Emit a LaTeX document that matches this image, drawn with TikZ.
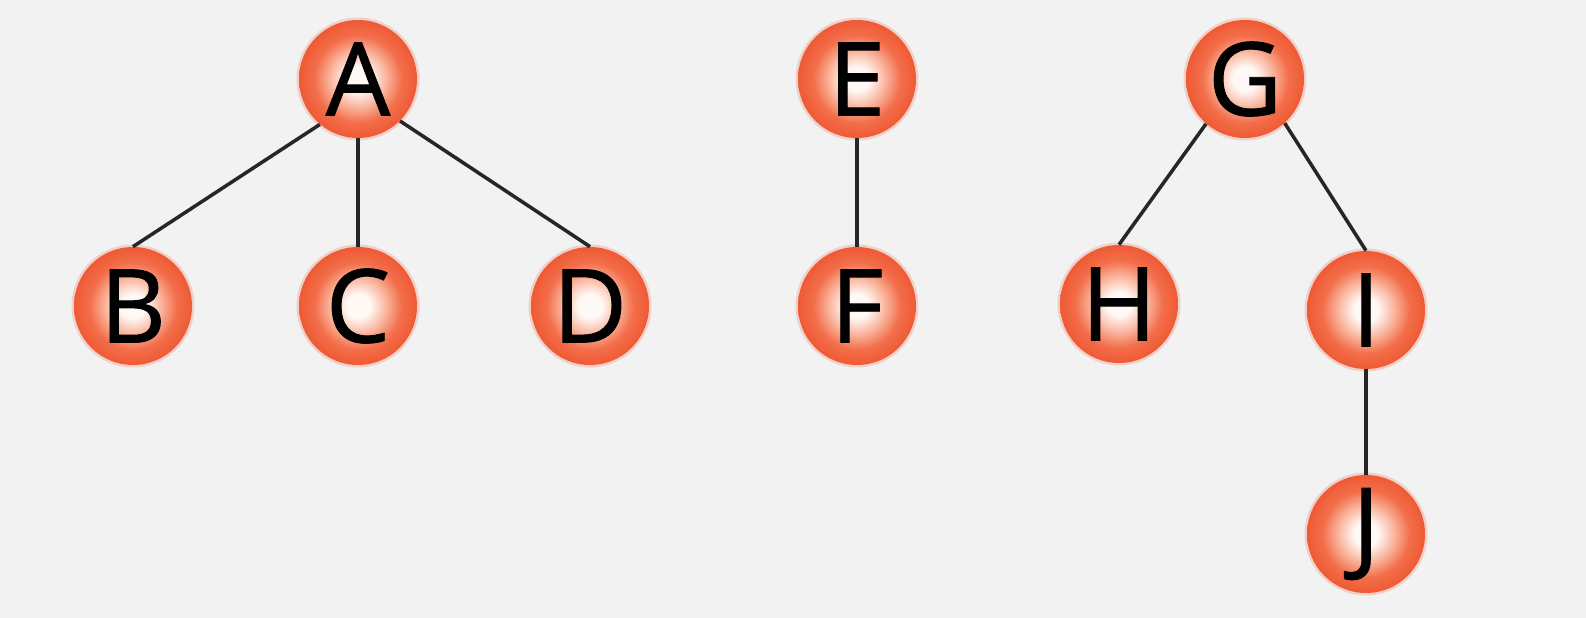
\documentclass[tikz,border=0pt]{standalone}
\usepackage{fontspec}
\setmainfont{Open Sans}
\newfontfamily\ballfont{Open Sans}[FakeBold=0.9]
\definecolor{bgcol}{HTML}{F2F2F2}
\definecolor{ballcore}{HTML}{FFF9F6}
\definecolor{ballmid}{HTML}{F9B49C}
\definecolor{ballouter}{HTML}{F36E4A}
\definecolor{ballrim}{HTML}{EE5A35}
\pgfdeclareradialshading{ballshade}{\pgfpoint{0bp}{0bp}}{%
  color(0bp)=(ballcore); color(5bp)=(ballcore); color(12bp)=(ballmid);
  color(18.5bp)=(ballouter); color(25bp)=(ballrim); color(50bp)=(ballrim)}
\tikzset{
  treenode/.style={circle, inner sep=0pt, minimum size=2.36cm,
    shading=ballshade, font=\ballfont\fontsize{58}{60}\selectfont, text=black},
  glow/.style={circle, inner sep=0pt, minimum size=2.46cm, fill=ballrim, opacity=0.22},
  link/.style={draw=black!85, line width=2pt}
}
\begin{document}
\begin{tikzpicture}[x=0.02cm, y=-0.02cm]
  \fill[bgcol] (0,0) rectangle (1586,618);
  \useasboundingbox (0,0) rectangle (1586,618);
  % soft halos behind the balls
  \foreach \p in {(358,79),(133,306),(358,306),(590,306),(857,79),(857,306),
                  (1245,79),(1119,304),(1366,310),(1366,534)}
    \node[glow] at \p {};
  % first tree
  \node[treenode] (A) at (358,79) {A};
  \node[treenode] (B) at (133,306) {B};
  \node[treenode] (C) at (358,306) {C};
  \node[treenode] (D) at (590,306) {D};
  % second tree
  \node[treenode] (E) at (857,79) {E};
  \node[treenode] (F) at (857,306) {F};
  % third tree
  \node[treenode] (G) at (1245,79) {G};
  \node[treenode] (H) at (1119,304) {H};
  \node[treenode] (I) at (1366,310) {I};
  \node[treenode] (J) at (1366,534) {J};
  % edges run from the parent's rim to the top of each child
  \draw[link] (A.230) -- (B.north);
  \draw[link] (A.south) -- (C.north);
  \draw[link] (A.315) -- (D.north);
  \draw[link] (E.south) -- (F.north);
  \draw[link] (G.229) -- (H.north);
  \draw[link] (G.312) -- (I.north);
  \draw[link] (I.south) -- (J.north);
\end{tikzpicture}
\end{document}
